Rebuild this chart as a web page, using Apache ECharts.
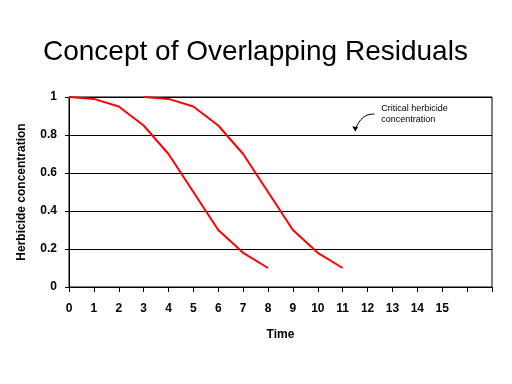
<!DOCTYPE html>
<html>
<head>
<meta charset="utf-8">
<script src="https://cdn.jsdelivr.net/npm/echarts@6/dist/echarts.min.js"></script>
<style>html,body{margin:0;padding:0;background:#fff}#c{width:512px;height:384px}</style>
</head>
<body>
<div id="c"></div>
<script>
var titleText = 'Concept of Overlapping Residuals';
var xName = 'Time';
var yName = 'Herbicide concentration';
var xLabels = ['0','1','2','3','4','5','6','7','8','9','10','11','12','13','14','15','',''];
var yTicks = [0, 0.2, 0.4, 0.6, 0.8, 1];
var times1 = [0, 1, 2, 3, 4, 5, 6, 7, 8];
var conc1 = [1, 0.99, 0.95, 0.85, 0.7, 0.5, 0.3, 0.18, 0.1];
var times2 = [3, 4, 5, 6, 7, 8, 9, 10, 11];
var conc2 = [1, 0.99, 0.95, 0.85, 0.7, 0.5, 0.3, 0.18, 0.1];
var noteLines = ['Critical herbicide', 'concentration'];
var noteAnchor = [12.55, 0.936];
var arrowFrom = [12.2, 0.91];
var arrowTo = [11.5, 0.82];

function pairs(xs, ys){ return xs.map(function(x,i){ return [x, ys[i]]; }); }

var chart = echarts.init(document.getElementById('c'), null, {renderer:'canvas'});
var font = 'Liberation Sans, Arial, sans-serif';
chart.setOption({
  animation: false,
  backgroundColor: '#fff',
  title: {
    text: titleText, left: 38, top: 33,
    textStyle: {fontFamily: font, fontSize: 28, fontWeight: 'normal', color: '#000'}
  },
  grid: {left: 69, right: 20, top: 97, bottom: 97, show: true, borderColor: '#000', borderWidth: 1, backgroundColor: 'transparent'},
  xAxis: {
    type: 'value', min: 0, max: 17, interval: 1,
    name: xName, nameLocation: 'middle', nameGap: 42,
    nameTextStyle: {fontFamily: font, fontSize: 12, fontWeight: 'bold', color: '#000'},
    axisLine: {lineStyle: {color: '#000', width: 1}},
    axisTick: {show: true, length: 5, lineStyle: {color: '#000'}},
    axisLabel: {fontFamily: font, fontSize: 12, fontWeight: 'bold', color: '#000', margin: 16,
      showMaxLabel: true,
      formatter: function(v){ return xLabels[Math.round(v)] || ''; }},
    splitLine: {show: false}
  },
  yAxis: {
    type: 'value', min: 0, max: 1, interval: 0.2,
    name: yName, nameLocation: 'middle', nameGap: 41,
    nameTextStyle: {fontFamily: font, fontSize: 12, fontWeight: 'bold', color: '#000'},
    axisLine: {show: true, lineStyle: {color: '#000', width: 1}},
    axisTick: {show: true, length: 4, lineStyle: {color: '#000'}},
    axisLabel: {fontFamily: font, fontSize: 12, fontWeight: 'bold', color: '#000', margin: 12,
      formatter: function(v){ var t = yTicks.find(function(a){return Math.abs(a-v)<1e-6;}); return t === undefined ? '' : String(t); }},
    splitLine: {show: true, lineStyle: {color: '#000', width: 1}}
  },
  series: [
    {type: 'line', data: pairs(times1, conc1), symbol: 'none', smooth: false,
      lineStyle: {color: '#ff0000', width: 2}},
    {type: 'line', data: pairs(times2, conc2), symbol: 'none', smooth: false,
      lineStyle: {color: '#ff0000', width: 2}}
  ]
});

var a = chart.convertToPixel({gridIndex: 0}, noteAnchor);
var f = chart.convertToPixel({gridIndex: 0}, arrowFrom);
var t = chart.convertToPixel({gridIndex: 0}, arrowTo);
chart.setOption({
  graphic: [
    {type: 'text', left: a[0], top: a[1] - 6, style: {text: noteLines.join('\n'), font: '9px ' + font, fill: '#000', lineHeight: 11}},
    {type: 'bezierCurve', shape: {x1: f[0], y1: f[1], cpx1: f[0] - 10, cpy1: f[1], cpx2: t[0] + 2, cpy2: t[1] - 8, x2: t[0], y2: t[1]},
      style: {stroke: '#000', lineWidth: 1, fill: null}},
    {type: 'line', shape: {x1: f[0], y1: f[1], x2: f[0] + 2, y2: f[1]}, style: {stroke: '#000', lineWidth: 1}},
    {type: 'polygon', shape: {points: [[t[0], t[1]], [t[0] - 3, t[1] - 5], [t[0] + 3, t[1] - 4]]}, style: {fill: '#000'}}
  ]
});
</script>
</body>
</html>
